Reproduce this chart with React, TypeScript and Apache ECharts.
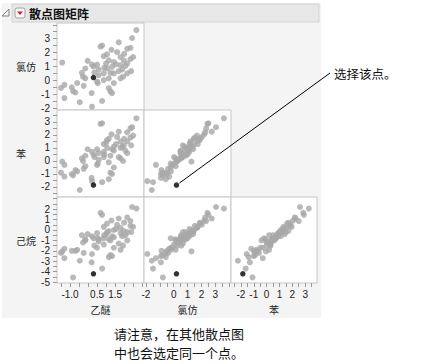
import React, { useEffect, useRef } from "react";
import * as echarts from "echarts";

// ---- data ----
const ether = [2.68,2.44,1.70,0.78,0.69,-1.43,1.30,1.05,0.87,1.61, 2.17,2.35,1.80,1.98,2.35,2.50,2.17,2.07,1.80,1.43, 1.15,1.33,1.06,-0.02,0.22,0.31,0.50,0.59,-0.15,-0.34, -0.28,0.59,0.87,1.24,1.43,1.70,1.89,2.17,2.39,1.80, 1.94,1.15,0.87,0.50,-0.15,-1.31,-0.24,0.20,-0.83,-0.70, -1.31,-0.46,0.22,0.78,1.15,1.24,1.33,1.43,0.54,-1.50, -0.90,0.90,1.55,2.00,0.35,1.00,-0.60,0.30];
const chloroform = [3.62,3.05,2.74,2.50,2.43,1.28,2.20,1.87,1.74,2.03, 2.27,2.34,1.68,1.44,1.52,1.68,1.21,1.04,1.09,1.32, 1.44,0.97,0.85,1.40,1.13,0.99,1.13,0.78,0.85,0.54, 0.26,0.38,0.50,0.54,0.50,0.66,0.78,0.50,0.66,0.14, 0.26,0.14,0.02,-0.09,0.14,-0.33,-0.40,-0.92,-0.78,-0.88, -1.28,-1.58,-1.90,-1.49,-0.57,-0.80,-0.92,-0.21,-0.21,-0.55, -0.50,0.90,1.15,1.90,0.55,1.20,-0.20,0.20];
const benzene = [3.28,2.60,2.25,2.90,2.85,-0.05,2.05,1.60,1.30,1.85, 2.20,2.50,1.50,1.20,1.80,1.95,1.50,0.80,1.00,1.10, 1.70,0.90,1.00,0.90,0.70,0.50,0.90,0.60,0.40,0.20, 0.00,0.10,0.70,0.40,0.80,0.30,1.10,0.60,1.20,0.20, 0.00,-0.10,0.30,-0.30,-0.40,-1.20,-0.60,-1.30,-1.10,-0.70, -0.30,-2.23,-1.55,-1.63,-1.40,-0.90,-1.00,-0.50,-0.20,-0.90, -1.00,0.50,1.30,1.70,0.30,1.40,-0.80,-1.85];
const hexane = [2.05,2.20,1.10,1.45,1.65,-2.05,0.90,0.60,0.30,0.50, 1.20,0.85,0.20,-0.10,0.40,0.30,-0.20,-0.50,-0.30,0.00, -0.10,-0.60,-0.20,-0.40,-0.60,-0.80,-0.30,-0.90,-0.90,-0.50, -1.20,-1.10,-0.80,-1.00,-0.70,-1.30,-0.60,-1.00,-0.20,-1.90, -1.50,-0.90,-1.40,-1.70,-1.00,-1.80,-2.20,-3.10,-4.55,-2.00, -2.70,-2.95,-2.30,-3.70,-2.60,-2.40,-2.50,-1.70,-0.80,-2.20, -2.00,-0.50,0.10,0.70,-1.50,-0.40,-1.90,-4.20];
const selectedIndex = 67;

const varNames = ["乙醚", "氯仿", "苯", "己烷"];

// tick marks and tick labels
const etherTicks = [-1.5,-1,-0.5,0,0.5,1,1.5,2,2.5,3];
const etherLabelValues = [-1, 0.5, 1.5];
const etherLabelTexts = ["-1.0", "0.5", "1.5"];
const chloroformTicks = [-2,-1.5,-1,-0.5,0,0.5,1,1.5,2,2.5,3,3.5,4];
const chloroformXLabels = [-2, 0, 1, 2, 3];
const chloroformYLabels = [-2, -1, 0, 1, 2, 3];
const benzeneTicks = [-2.5,-2,-1.5,-1,-0.5,0,0.5,1,1.5,2,2.5,3,3.5];
const benzeneXLabels = [-2, -1, 0, 1, 2, 3];
const benzeneYLabels = [-2, -1, 0, 1, 2, 3];
const hexaneTicks = [-5,-4.5,-4,-3.5,-3,-2.5,-2,-1.5,-1,-0.5,0,0.5,1,1.5,2,2.5,3];
const hexaneYLabels = [-5, -4, -3, -2, -1, 0, 1, 2];

const title = "散点图矩阵";
const calloutText = "选择该点。";
const noteLines = ["请注意，在其他散点图", "中也会选定同一个点。"];

export default function App() {
  const ref = useRef<HTMLDivElement>(null);
  useEffect(() => {
    if (!ref.current) return;
    const chart = echarts.init(ref.current, null, { renderer: "svg" });

    const vars: any = {
      ether: { data: ether, min: -1.72, max: 3.1, ticks: etherTicks, labels: etherLabelValues, fmt: (v: number) => { const i = etherLabelValues.findIndex((x) => Math.abs(x - v) < 1e-6); return i >= 0 ? etherLabelTexts[i] : ""; } },
      chloroformX: { data: chloroform, min: -2.14, max: 4.13, ticks: chloroformTicks, labels: chloroformXLabels, fmt: (v: number) => String(v) },
      chloroformY: { data: chloroform, min: -2.14, max: 4.13, ticks: chloroformTicks, labels: chloroformYLabels, fmt: (v: number) => String(v) },
      benzeneX: { data: benzene, min: -2.77, max: 3.92, ticks: benzeneTicks, labels: benzeneXLabels, fmt: (v: number) => String(v) },
      benzeneY: { data: benzene, min: -2.77, max: 3.92, ticks: benzeneTicks, labels: benzeneYLabels, fmt: (v: number) => String(v) },
      hexaneY: { data: hexane, min: -5.08, max: 3.16, ticks: hexaneTicks, labels: hexaneYLabels, fmt: (v: number) => String(v) },
    };
    const colVars = [vars.ether, vars.chloroformX, vars.benzeneX];
    const rowVars = [vars.chloroformY, vars.benzeneY, vars.hexaneY];
    const colNames = [varNames[0], varNames[1], varNames[2]];
    const rowNames = [varNames[1], varNames[2], varNames[3]];

    const lefts = [57, 144, 231];
    const widths = [87, 87, 86];
    const tops = [23, 110, 197];
    const heights = [87, 87, 86];

    const grids: any[] = [];
    const xAxes: any[] = [];
    const yAxes: any[] = [];
    const series: any[] = [];
    const labelFont = "'Liberation Sans', Arial, sans-serif";
    const cjkFont = "'Noto Sans CJK SC', sans-serif";
    let panelD = -1;

    for (let r = 0; r < 3; r++) {
      for (let c = 0; c <= r; c++) {
        const k = grids.length;
        if (r === 1 && c === 1) panelD = k;
        const xv = colVars[c];
        const yv = rowVars[r];
        grids.push({
          left: lefts[c], top: tops[r], width: widths[c], height: heights[r],
          show: true, backgroundColor: "#ffffff", borderColor: "#c6c6c6", borderWidth: 1,
        });
        xAxes.push({
          type: "value", gridIndex: k, min: xv.min, max: xv.max, position: "bottom",
          axisLine: { show: false, onZero: false }, splitLine: { show: false },
          axisTick: { show: r === 2, length: 4, lineStyle: { color: "#9a9a9a" }, customValues: xv.ticks },
          axisLabel: { show: r === 2, customValues: xv.labels, formatter: xv.fmt, fontSize: 10, color: "#222", margin: 6, fontFamily: labelFont },
          name: r === 2 ? colNames[c] : "", nameLocation: "middle", nameGap: 21,
          nameTextStyle: { fontFamily: cjkFont, fontSize: 10, color: "#222" },
        });
        yAxes.push({
          type: "value", gridIndex: k, min: yv.min, max: yv.max, position: "left",
          axisLine: { show: false, onZero: false }, splitLine: { show: false },
          axisTick: { show: c === 0, length: 4, lineStyle: { color: "#9a9a9a" }, customValues: yv.ticks },
          axisLabel: { show: c === 0, customValues: yv.labels, formatter: yv.fmt, fontSize: 10, color: "#222", margin: 7, fontFamily: labelFont },
        });
        const pts = xv.data.map((x: number, i: number) => [x, yv.data[i]]).filter((_: any, i: number) => i !== selectedIndex);
        series.push({
          type: "scatter", xAxisIndex: k, yAxisIndex: k, data: pts, symbolSize: 6,
          itemStyle: { color: "#a8a8a8" }, silent: true, z: 2,
        });
        series.push({
          type: "scatter", xAxisIndex: k, yAxisIndex: k,
          data: [[xv.data[selectedIndex], yv.data[selectedIndex]]], symbolSize: 5.5,
          itemStyle: { color: "#000000" }, silent: true, z: 3,
        });
      }
    }

    const graphic: any[] = [
      { type: "rect", id: "panelbg", z: -100, shape: { x: 2, y: 3, width: 319, height: 315 }, style: { fill: "#f4f4f4" } },
      { type: "rect", id: "header", z: -90, shape: { x: 12, y: 4, width: 307, height: 18 }, style: { fill: "#e7e7e7", stroke: "#d2d2d2", lineWidth: 1 } },
      { type: "polygon", id: "tri", shape: { points: [[2, 16], [9, 16], [9, 9]] }, style: { fill: "none", stroke: "#808080", lineWidth: 1 } },
      { type: "rect", id: "iconbox", shape: { x: 15, y: 8, width: 10, height: 10, r: 2 }, style: { fill: "#f8f8f8", stroke: "#a0a0a0", lineWidth: 1 } },
      { type: "polygon", id: "icontri", shape: { points: [[17, 11.5], [23, 11.5], [20, 15]] }, style: { fill: "#d8202a" } },
      { type: "text", id: "title", x: 29, y: 13, style: { text: title, font: "bold 12px 'Noto Sans CJK SC', sans-serif", fill: "#111", verticalAlign: "middle", align: "left" } },
      ...rowNames.map((n, r) => ({ type: "text", id: "yname" + r, x: 16, y: tops[r] + heights[r] / 2, style: { text: n, font: "10px 'Noto Sans CJK SC', sans-serif", fill: "#222", verticalAlign: "middle", align: "left" } })),
      { type: "text", id: "callout", x: 334, y: 73, style: { text: calloutText, font: "12.5px 'Noto Sans CJK SC', sans-serif", fill: "#111", verticalAlign: "middle", align: "left" } },
      ...noteLines.map((t, i) => ({ type: "text", id: "note" + i, x: 114, y: 333 + i * 19, style: { text: t, font: "13px 'Noto Sans CJK SC', sans-serif", fill: "#111", verticalAlign: "middle", align: "left" } })),
    ];

    chart.setOption({
      animation: false,
      backgroundColor: "#ffffff",
      grid: grids, xAxis: xAxes, yAxis: yAxes, series, graphic,
    });

    const p = chart.convertToPixel({ xAxisIndex: panelD, yAxisIndex: panelD } as any, [chloroform[selectedIndex], benzene[selectedIndex]]) as any;
    if (p) {
      chart.setOption({
        graphic: [
          { type: "line", id: "leader", shape: { x1: p[0] + 3, y1: p[1] - 2, x2: 330, y2: 73 }, style: { stroke: "#000", lineWidth: 1 } },
        ],
      });
    }
    return () => chart.dispose();
  }, []);
  return <div ref={ref} style={{ position: "absolute", left: 0, top: 0, width: 448, height: 364 }} />;
}
